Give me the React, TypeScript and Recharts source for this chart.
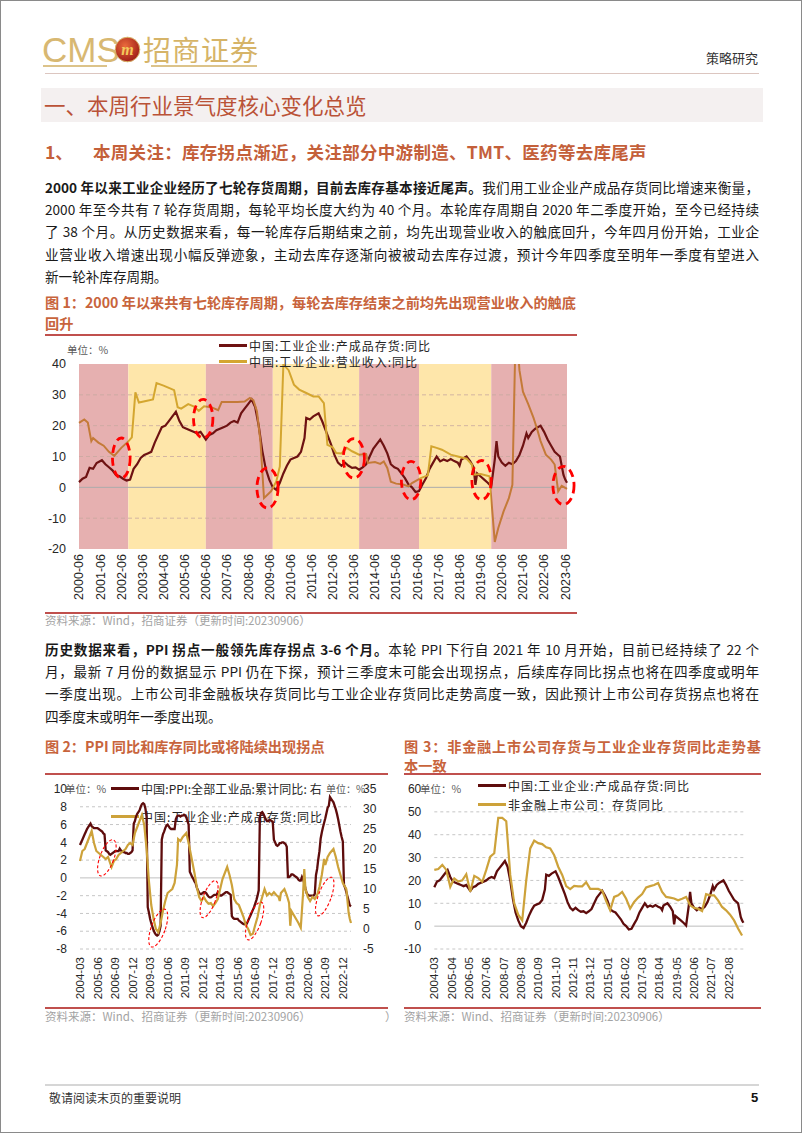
import React from "react";
import {
  LineChart,
  Line,
  XAxis,
  YAxis,
  CartesianGrid,
  ReferenceArea,
  ReferenceLine,
} from "recharts";

const CJK = '"Noto Sans CJK SC", "Noto Sans", sans-serif';
const ARIAL = '"Liberation Sans", Arial, sans-serif';

// ---------- data ----------

// 中国:工业企业:产成品存货:同比 (%)
const inventoryYoY: [string, number][] = [
  ["2000-06", 1.7], ["2000-08", 2.8], ["2000-10", 3.4], ["2000-12", 6.3], ["2001-02", 6.0],
  ["2001-04", 7.9], ["2001-07", 8.8], ["2001-09", 7.5], ["2001-11", 6.5], ["2002-01", 5.5],
  ["2002-03", 4.0], ["2002-05", 3.6], ["2002-07", 2.8], ["2002-09", 2.2], ["2002-11", 2.5],
  ["2003-01", 6.0], ["2003-03", 7.5], ["2003-05", 9.5], ["2003-07", 10.5], ["2003-09", 11.0],
  ["2003-11", 11.5], ["2004-01", 14.5], ["2004-03", 17.0], ["2004-05", 19.5], ["2004-07", 20.0],
  ["2004-09", 21.5], ["2004-11", 23.0], ["2005-01", 24.5], ["2005-03", 21.5], ["2005-05", 19.5],
  ["2005-07", 19.0], ["2005-09", 18.5], ["2005-11", 18.0], ["2006-01", 17.5], ["2006-03", 18.0],
  ["2006-06", 15.5], ["2006-08", 17.0], ["2006-10", 17.5], ["2006-12", 18.5], ["2007-02", 19.0],
  ["2007-04", 19.5], ["2007-06", 20.0], ["2007-08", 21.0], ["2007-10", 21.5], ["2007-12", 21.0],
  ["2008-02", 24.0], ["2008-04", 25.5], ["2008-06", 27.0], ["2008-08", 28.5], ["2008-10", 26.0],
  ["2008-12", 20.0], ["2009-02", 12.0], ["2009-04", 6.0], ["2009-06", 2.5], ["2009-08", 0.0],
  ["2009-10", -0.8], ["2009-12", 1.5], ["2010-02", 4.5], ["2010-04", 7.0], ["2010-06", 9.0],
  ["2010-08", 9.5], ["2010-10", 10.0], ["2010-12", 11.5], ["2011-02", 16.0], ["2011-03", 22.5],
  ["2011-05", 22.0], ["2011-07", 23.0], ["2011-10", 24.0], ["2011-12", 21.5], ["2012-03", 17.0],
  ["2012-05", 14.0], ["2012-07", 10.5], ["2012-09", 8.0], ["2012-11", 7.0], ["2013-01", 8.0],
  ["2013-03", 7.0], ["2013-05", 6.3], ["2013-07", 6.5], ["2013-09", 5.7], ["2013-11", 6.5],
  ["2014-01", 7.5], ["2014-03", 10.0], ["2014-05", 12.5], ["2014-07", 14.0], ["2014-09", 15.5],
  ["2014-11", 13.5], ["2015-01", 11.0], ["2015-03", 7.5], ["2015-05", 6.5], ["2015-07", 6.0],
  ["2015-09", 4.5], ["2015-11", 3.0], ["2016-01", 1.0], ["2016-03", 0.0], ["2016-05", -1.5],
  ["2016-07", -1.2], ["2016-09", 1.0], ["2016-11", 3.0], ["2017-01", 6.0], ["2017-03", 8.0],
  ["2017-05", 10.0], ["2017-07", 8.4], ["2017-09", 9.0], ["2017-11", 8.5], ["2018-01", 9.2],
  ["2018-03", 8.5], ["2018-05", 8.0], ["2018-06", 7.0], ["2018-07", 9.0], ["2018-10", 10.0],
  ["2018-12", 8.5], ["2019-02", 6.5], ["2019-03", 0.8], ["2019-04", 4.5], ["2019-06", 3.5],
  ["2019-08", 2.5], ["2019-10", 1.5], ["2019-12", 0.3], ["2020-02", 9.0], ["2020-03", 15.0],
  ["2020-04", 10.0], ["2020-06", 8.0], ["2020-08", 7.0], ["2020-10", 8.0], ["2020-12", 7.5],
  ["2021-02", 8.5], ["2021-04", 10.5], ["2021-06", 13.5], ["2021-08", 17.5], ["2021-09", 16.0],
  ["2021-11", 18.0], ["2022-01", 19.0], ["2022-04", 20.0], ["2022-06", 18.0], ["2022-08", 15.5],
  ["2022-10", 13.5], ["2022-12", 11.5], ["2023-02", 10.5], ["2023-03", 10.0], ["2023-04", 7.0],
  ["2023-05", 4.0], ["2023-06", 2.5], ["2023-07", 1.5],
];

// 中国:工业企业:营业收入:同比 (%)
const revenueYoY: [string, number][] = [
  ["2000-06", 20.9], ["2000-09", 22.0], ["2000-11", 21.0], ["2001-01", 15.0], ["2001-02", 16.0],
  ["2001-05", 14.5], ["2001-08", 13.5], ["2001-11", 11.5], ["2002-02", 10.2], ["2002-06", 12.8],
  ["2002-10", 14.9], ["2002-12", 16.2], ["2003-02", 30.8], ["2003-04", 27.5], ["2003-08", 28.0],
  ["2003-12", 28.5], ["2004-02", 33.8], ["2004-06", 33.0], ["2004-10", 32.0], ["2004-12", 31.5],
  ["2005-02", 26.0], ["2005-04", 25.5], ["2005-08", 27.0], ["2005-11", 26.3], ["2006-02", 24.8],
  ["2006-05", 26.3], ["2006-09", 26.0], ["2007-01", 25.0], ["2007-03", 27.7], ["2007-12", 27.7],
  ["2008-04", 27.8], ["2008-07", 29.0], ["2008-09", 28.3], ["2008-11", 24.7], ["2009-01", 14.9],
  ["2009-03", -3.5], ["2009-07", -1.3], ["2009-10", 1.9], ["2009-12", 6.8], ["2010-02", 39.8],
  ["2010-05", 38.0], ["2010-08", 33.3], ["2010-11", 31.7], ["2011-03", 30.6], ["2011-07", 29.5],
  ["2011-10", 29.5], ["2012-01", 27.3], ["2012-03", 13.8], ["2012-06", 13.0], ["2012-08", 11.1],
  ["2012-11", 11.0], ["2013-02", 12.8], ["2013-05", 11.7], ["2013-09", 10.6], ["2014-01", 10.8],
  ["2014-02", 7.9], ["2014-06", 8.2], ["2014-09", 7.6], ["2014-11", 8.4], ["2015-01", 6.3],
  ["2015-03", 1.8], ["2015-06", 1.2], ["2015-10", 0.9], ["2016-01", 0.3], ["2016-03", 1.4],
  ["2016-08", 3.0], ["2016-12", 3.9], ["2017-02", 13.3], ["2017-05", 12.8], ["2017-08", 12.2],
  ["2018-01", 10.6], ["2018-05", 10.0], ["2018-10", 9.3], ["2019-01", 7.4], ["2019-02", 4.1],
  ["2019-06", 4.3], ["2019-11", 3.6], ["2020-02", -17.7], ["2020-04", -13.2], ["2020-07", -7.8],
  ["2020-10", -3.5], ["2020-12", 0.8], ["2021-02", 55.0], ["2021-04", 38.0], ["2021-06", 31.0],
  ["2021-09", 27.0], ["2021-12", 22.5], ["2022-02", 19.0], ["2022-04", 15.0], ["2022-07", 10.6],
  ["2022-10", 9.0], ["2022-12", 7.4], ["2023-02", -1.3], ["2023-04", 0.5], ["2023-07", -0.5],
];

// 中国:PPI:全部工业品:累计同比, monthly from 2004-03
const ppiStart = "2004-03";
const ppiCumYoY: number[] = [
  3.7, 4.0, 4.3, 4.6, 4.9, 5.2, 5.5, 5.7, 5.9, 6.1,
  5.8, 5.7, 5.6, 5.6, 5.6, 5.6, 5.5, 5.4, 5.3, 5.2, 5.0, 4.9,
  3.1, 3.0, 2.9, 2.7, 2.6, 2.7, 2.8, 2.9, 3.0, 3.0, 3.0, 3.0,
  3.3, 3.1, 3.0, 2.9, 2.9, 2.8, 2.8, 2.7, 2.7, 2.8, 2.9, 3.1,
  6.1, 6.4, 6.9, 7.2, 7.4, 7.6, 8.0, 8.3, 8.4, 8.3, 7.8, 6.9,
  -3.3, -3.9, -4.6, -5.1, -5.5, -5.9, -6.2, -6.4, -6.5, -6.4, -6.0, -5.4,
  4.3, 4.9, 5.2, 5.6, 5.9, 6.0, 5.8, 5.6, 5.5, 5.5, 5.5, 5.5,
  6.6, 6.9, 7.0, 7.0, 6.9, 7.0, 7.0, 7.1, 7.0, 6.8, 6.4, 6.0,
  0.7, 0.4, 0.1, -0.1, -0.4, -0.6, -1.1, -1.4, -1.7, -1.8, -1.8, -1.7,
  -1.6, -1.6, -1.7, -1.9, -2.1, -2.2, -2.2, -2.1, -2.0, -1.9, -1.9, -1.9,
  -1.6, -1.8, -2.0, -2.0, -1.9, -1.8, -1.7, -1.6, -1.6, -1.7, -1.8, -1.9,
  -4.3, -4.5, -4.6, -4.6, -4.6, -4.6, -4.8, -4.9, -5.0, -5.1, -5.2, -5.2,
  -5.3, -5.1, -4.8, -4.5, -4.2, -3.9, -3.6, -3.3, -2.9, -2.5, -2.0, -1.4,
  6.9, 7.3, 7.4, 7.2, 6.9, 6.6, 6.4, 6.4, 6.5, 6.5, 6.4, 6.3,
  4.3, 4.0, 3.7, 3.6, 3.7, 3.9, 3.9, 4.0, 4.0, 3.9, 3.8, 3.5,
  0.1, 0.1, 0.2, 0.4, 0.4, 0.3, 0.2, 0.1, 0.0, -0.2, -0.3, -0.3,
  0.1, -0.2, -0.6, -1.2, -1.7, -1.9, -2.0, -2.0, -2.0, -2.0, -2.0, -1.8,
  0.3, 1.0, 2.1, 3.0, 4.4, 5.1, 5.7, 6.2, 6.7, 7.3, 7.9, 8.1,
  9.1, 8.9, 8.7, 8.5, 8.1, 7.7, 7.2, 6.6, 5.9, 5.2, 4.6, 4.1,
  -0.8, -1.1, -1.6, -2.1, -2.6, -3.1, -3.2,
];

// 非金融上市公司：存货同比 (%), quarterly
const listedInvYoY: [string, number][] = [
  ["2004-03", 24.6], ["2004-06", 25.0], ["2004-09", 26.8], ["2004-12", 24.6], ["2005-03", 17.2],
  ["2005-06", 20.9], ["2005-09", 19.5], ["2005-12", 20.0], ["2006-03", 22.7], ["2006-06", 15.0],
  ["2006-09", 22.0], ["2006-12", 21.0], ["2007-03", 19.4], ["2007-06", 24.6], ["2007-09", 30.4],
  ["2007-12", 31.9], ["2008-03", 47.4], ["2008-06", 47.4], ["2008-09", 45.9], ["2008-12", 22.4],
  ["2009-03", 10.0], ["2009-06", 5.0], ["2009-09", 2.5], ["2009-12", 20.0], ["2010-03", 34.0],
  ["2010-06", 37.4], ["2010-09", 36.3], ["2010-12", 35.9], ["2011-03", 34.5], ["2011-06", 34.0],
  ["2011-09", 31.0], ["2011-12", 26.0], ["2012-03", 22.4], ["2012-06", 17.5], ["2012-09", 16.2],
  ["2012-12", 17.6], ["2013-03", 17.4], ["2013-06", 17.4], ["2013-09", 19.2], ["2013-12", 16.3],
  ["2014-03", 16.3], ["2014-06", 16.3], ["2014-09", 15.5], ["2014-12", 11.0], ["2015-03", 6.9],
  ["2015-06", 12.8], ["2015-09", 13.5], ["2015-12", 15.0], ["2016-03", 12.0], ["2016-06", 7.7],
  ["2016-09", 10.6], ["2016-12", 12.5], ["2017-03", 14.0], ["2017-06", 16.9], ["2017-09", 17.5],
  ["2017-12", 18.0], ["2018-03", 18.9], ["2018-06", 15.0], ["2018-09", 12.8], ["2018-12", 12.5],
  ["2019-03", 12.1], ["2019-06", 11.3], ["2019-09", 12.0], ["2019-12", 12.8], ["2020-03", 9.1],
  ["2020-06", 8.0], ["2020-09", 7.6], ["2020-12", 6.6], ["2021-03", 14.0], ["2021-06", 13.5],
  ["2021-09", 13.5], ["2021-12", 11.3], ["2022-03", 8.4], ["2022-06", 6.9], ["2022-09", 5.0],
  ["2022-12", 2.5], ["2023-03", -1.0], ["2023-06", -4.1],
];

// tick labels
const ticks1 = [
  "2000-06", "2001-06", "2002-06", "2003-06", "2004-06", "2005-06", "2006-06", "2007-06",
  "2008-06", "2009-06", "2010-06", "2011-06", "2012-06", "2013-06", "2014-06", "2015-06",
  "2016-06", "2017-06", "2018-06", "2019-06", "2020-06", "2021-06", "2022-06", "2023-06",
];
const ticks2 = [
  "2004-03", "2005-06", "2006-09", "2007-12", "2009-03", "2010-06", "2011-09", "2012-12",
  "2014-03", "2015-06", "2016-09", "2017-12", "2019-03", "2020-06", "2021-09", "2022-12",
];
const ticks3 = [
  "2004-03", "2005-04", "2006-05", "2007-06", "2008-07", "2009-08", "2010-09", "2011-10",
  "2012-11", "2013-12", "2015-01", "2016-02", "2017-03", "2018-04", "2019-05", "2020-06",
  "2021-07", "2022-08",
];

// inventory cycle bands in fig 1
const bandEdges = ["2000-06", "2002-10", "2006-06", "2009-08", "2013-09", "2016-07", "2019-12", "2023-07"];
const bandKinds = ["down", "up", "down", "up", "down", "up", "down"];

// dashed circles: [from, to, low, high]
const circles1: [string, string, number, number][] = [
  ["2002-01", "2002-11", 3, 16],
  ["2005-11", "2006-10", 16, 28.5],
  ["2008-11", "2009-11", -6.7, 6.3],
  ["2012-12", "2013-12", 3, 15.8],
  ["2015-09", "2016-08", -4, 8.4],
  ["2019-01", "2019-12", -4, 8.7],
  ["2022-11", "2023-11", -5.6, 6.8],
];
const circles2: [string, string, number, number][] = [
  ["2005-08", "2006-08", 0.1, 4.4],
  ["2012-12", "2013-11", -4.6, -0.2],
  ["2009-04", "2010-04", -7.9, -3.4],
  ["2016-03", "2017-02", -7.1, -2.6],
  ["2021-03", "2022-02", -4.4, 0.2],
];

// ---------- helpers ----------

const monthIndex = (d: string, base: string) => {
  const [y, m] = d.split("-").map(Number);
  const [by, bm] = base.split("-").map(Number);
  return (y - by) * 12 + (m - bm);
};
const labelAt = (base: string) => (i: number) => {
  const [by, bm] = base.split("-").map(Number);
  const k = by * 12 + (bm - 1) + i;
  const y = Math.floor(k / 12);
  const m = (k % 12) + 1;
  return `${y}-${m < 10 ? "0" + m : m}`;
};
const toPts = (rows: [string, number][], base: string) =>
  rows.map(([d, v]) => ({ t: monthIndex(d, base), v })).filter((p) => p.t >= 0);

const BASE1 = "2000-06";
const BASE2 = "2004-03";
const END1 = monthIndex("2023-07", BASE1);
const END2 = monthIndex("2023-07", BASE2);

const invPts1 = toPts(inventoryYoY, BASE1);
const revPts1 = toPts(revenueYoY, BASE1);
const invPts2 = toPts(inventoryYoY, BASE2);
const listedPts = toPts(listedInvYoY, BASE2);
const ppiPts = ppiCumYoY.map((v, i) => ({ t: i + monthIndex(ppiStart, BASE2), v }));

const DARK = "#6E1212";
const DARK2 = "#5E0C0C";
const GOLD = "#CDA23A";
const PINK = "#E6B0B0";
const YELLOW = "#FEE6AA";
const GOLD_ON_PINK = "#C47A38";
const GOLD_ON_YELLOW = "#D4A630";

const RotTick = (props: any) => {
  const { x, y, payload, fmt, size } = props;
  return (
    <text
      x={x}
      y={y}
      transform={`rotate(-90 ${x} ${y})`}
      textAnchor="end"
      dy="0.35em"
      fontSize={size}
      fontFamily={ARIAL}
      fill="#262626"
    >
      {fmt(payload.value)}
    </text>
  );
};

const ellipseShape = (rot: number, sw: number, dash: string) => (p: any) => {
  const cx = p.x + p.width / 2;
  const cy = p.y + p.height / 2;
  return (
    <ellipse
      cx={cx}
      cy={cy}
      rx={Math.abs(p.width) / 2}
      ry={Math.abs(p.height) / 2}
      transform={`rotate(${rot} ${cx} ${cy})`}
      fill="none"
      stroke="#FF0000"
      strokeWidth={sw}
      strokeDasharray={dash}
    />
  );
};

type TxtProps = {
  x: number;
  y: number;
  w?: number;
  size: number;
  color?: string;
  bold?: boolean;
  justify?: boolean;
  lh?: number;
  font?: string;
  spacing?: number;
  children: React.ReactNode;
};

const Txt = ({ x, y, w, size, color = "#1a1a1a", bold, justify, lh, font = CJK, spacing, children }: TxtProps) => {
  const h = lh ?? Math.round(size * 1.5);
  return (
    <div
      style={{
        position: "absolute",
        left: x,
        top: y - h / 2,
        width: w,
        fontSize: size,
        lineHeight: `${h}px`,
        color,
        fontWeight: bold ? 700 : 400,
        fontFamily: font,
        letterSpacing: spacing,
        textAlign: justify ? "justify" : "left",
        textAlignLast: justify ? "justify" : "auto",
        whiteSpace: w ? "normal" : "nowrap",
      }}
    >
      {children}
    </div>
  );
};

const Rule = ({ x, y, w, h = 1, color }: { x: number; y: number; w: number; h?: number; color: string }) => (
  <div style={{ position: "absolute", left: x, top: y, width: w, height: h, background: color }} />
);

const LegendItem = ({ x, y, color, text, spacing = 1 }: { x: number; y: number; color: string; text: string; spacing?: number }) => (
  <>
    <Rule x={x} y={y - 1.5} w={28} h={3} color={color} />
    <Txt x={x + 30} y={y} size={12} color="#262626" spacing={spacing} lh={13}>
      {text}
    </Txt>
  </>
);

// ---------- texts ----------

const para1: [string, string][] = [
  ["2000 年以来工业企业经历了七轮存货周期，目前去库存基本接近尾声。", "我们用工业企业产成品存货同比增速来衡量，"],
  ["", "2000 年至今共有 7 轮存货周期，每轮平均长度大约为 40 个月。本轮库存周期自 2020 年二季度开始，至今已经持续"],
  ["", "了 38 个月。从历史数据来看，每一轮库存后期结束之前，均先出现营业收入的触底回升，今年四月份开始，工业企"],
  ["", "业营业收入增速出现小幅反弹迹象，主动去库存逐渐向被被动去库存过渡，预计今年四季度至明年一季度有望进入"],
  ["", "新一轮补库存周期。"],
];
const para2: [string, string][] = [
  ["历史数据来看，PPI 拐点一般领先库存拐点 3-6 个月。", "本轮 PPI 下行自 2021 年 10 月开始，目前已经持续了 22 个"],
  ["", "月，最新 7 月份的数据显示 PPI 仍在下探，预计三季度末可能会出现拐点，后续库存同比拐点也将在四季度或明年"],
  ["", "一季度出现。上市公司非金融板块存货同比与工业企业存货同比走势高度一致，因此预计上市公司存货拐点也将在"],
  ["", "四季度末或明年一季度出现。"],
];

const Paragraph = ({ lines, y0 }: { lines: [string, string][]; y0: number }) => (
  <>
    {lines.map(([b, r], i) => (
      <Txt key={i} x={44} y={y0 + i * 22.2} w={i === lines.length - 1 ? undefined : 714} size={13.6} justify={i !== lines.length - 1} lh={20}>
        {b ? <b>{b}</b> : null}
        {r}
      </Txt>
    ))}
  </>
);

// ---------- charts ----------

const Chart1 = () => {
  const stops: React.ReactNode[] = [];
  bandKinds.forEach((k, i) => {
    const c = k === "down" ? GOLD_ON_PINK : GOLD_ON_YELLOW;
    const a = monthIndex(bandEdges[i], BASE1) / END1;
    const b = monthIndex(bandEdges[i + 1], BASE1) / END1;
    stops.push(<stop key={`a${i}`} offset={a} stopColor={c} />);
    stops.push(<stop key={`b${i}`} offset={b} stopColor={c} />);
  });
  const fmt = labelAt(BASE1);
  return (
    <LineChart width={560} height={275} margin={{ top: 23, right: 24, bottom: 0, left: 0 }}>
      <defs>
        <linearGradient id="revGrad" x1="0" y1="0" x2="1" y2="0">
          {stops}
        </linearGradient>
      </defs>
      <XAxis
        type="number"
        dataKey="t"
        domain={[0, END1]}
        ticks={ticks1.map((l) => monthIndex(l, BASE1))}
        interval={0}
        axisLine={false}
        tickLine={false}
        tickSize={0}
        tickMargin={5}
        height={67}
        tick={(p: any) => <RotTick {...p} fmt={fmt} size={12.5} />}
      />
      <YAxis
        type="number"
        domain={[-20, 40]}
        ticks={[-20, -10, 0, 10, 20, 30, 40]}
        interval={0}
        allowDataOverflow
        width={48}
        axisLine={false}
        tickLine={false}
        tickSize={0}
        tickMargin={13}
        tick={{ fontSize: 12.5, fill: "#262626", fontFamily: ARIAL }}
      />
      {bandKinds.map((k, i) => (
        <ReferenceArea
          key={`band${i}`}
          x1={monthIndex(bandEdges[i], BASE1)}
          x2={monthIndex(bandEdges[i + 1], BASE1)}
          y1={-20}
          y2={40}
          fill={k === "down" ? PINK : YELLOW}
          fillOpacity={1}
          stroke="none"
        />
      ))}
      {[30, 20, 10, -10].map((v) => (
        <ReferenceLine key={`g${v}`} y={v} stroke="#C8A8A0" strokeDasharray="4 3" strokeWidth={0.8} />
      ))}
      <ReferenceLine y={0} stroke="#ABABAB" strokeWidth={1} />
      <Line data={invPts1} dataKey="v" type="linear" stroke={DARK} strokeWidth={2.2} dot={false} isAnimationActive={false} />
      <Line data={revPts1} dataKey="v" type="linear" stroke="url(#revGrad)" strokeWidth={2} dot={false} isAnimationActive={false} />
      {circles1.map(([a, b, lo, hi], i) => (
        <ReferenceArea
          key={`c${i}`}
          x1={monthIndex(a, BASE1)}
          x2={monthIndex(b, BASE1)}
          y1={lo}
          y2={hi}
          ifOverflow="visible"
          zIndex={700}
          shape={ellipseShape(0, 2.8, "8 5")}
        />
      ))}
    </LineChart>
  );
};

const Chart2 = () => {
  const fmt = labelAt(BASE2);
  return (
    <LineChart width={370} height={240} margin={{ top: 18, right: 8, bottom: 0, left: 4 }}>
      <CartesianGrid
        yAxisId="L"
        vertical={false}
        horizontalValues={[-8, -6, -4, -2, 2, 4, 6, 8]}
        stroke="#C6C6C6"
        strokeDasharray="3 3"
      />
      <XAxis
        type="number"
        dataKey="t"
        domain={[0, END2]}
        ticks={ticks2.map((l) => monthIndex(l, BASE2))}
        interval={0}
        axisLine={false}
        tickLine={false}
        tickSize={0}
        tickMargin={8}
        height={62}
        tick={(p: any) => <RotTick {...p} fmt={fmt} size={11.5} />}
      />
      <YAxis
        yAxisId="L"
        type="number"
        domain={[-8, 10]}
        ticks={[-8, -6, -4, -2, 0, 2, 4, 6, 8, 10]}
        interval={0}
        width={45}
        axisLine={false}
        tickLine={false}
        tickSize={0}
        tickMargin={13}
        tick={{ fontSize: 12, fill: "#262626", fontFamily: ARIAL }}
      />
      <YAxis
        yAxisId="R"
        orientation="right"
        type="number"
        domain={[-5, 35]}
        ticks={[-5, 0, 5, 10, 15, 20, 25, 30, 35]}
        interval={0}
        width={42}
        axisLine={false}
        tickLine={false}
        tickSize={0}
        tickMargin={12}
        tick={{ fontSize: 12, fill: "#262626", fontFamily: ARIAL }}
      />
      <ReferenceLine yAxisId="L" y={0} stroke="#C0C0C0" />
      <Line yAxisId="L" data={ppiPts} dataKey="v" type="linear" stroke={DARK2} strokeWidth={2.3} dot={false} isAnimationActive={false} />
      <Line yAxisId="R" data={invPts2} dataKey="v" type="linear" stroke={GOLD} strokeWidth={2.2} dot={false} isAnimationActive={false} />
      {circles2.map(([a, b, lo, hi], i) => (
        <ReferenceArea
          key={`c${i}`}
          yAxisId="L"
          x1={monthIndex(a, BASE2)}
          x2={monthIndex(b, BASE2)}
          y1={lo}
          y2={hi}
          ifOverflow="visible"
          zIndex={700}
          shape={ellipseShape(20, 1.1, "3 2")}
        />
      ))}
    </LineChart>
  );
};

const Chart3 = () => {
  const fmt = labelAt(BASE2);
  return (
    <LineChart width={380} height={240} margin={{ top: 18, right: 32.6, bottom: 0, left: 0 }}>
      <CartesianGrid
        vertical={false}
        horizontalValues={[-10, 10, 20, 30, 40, 50]}
        stroke="#C6C6C6"
        strokeDasharray="3 3"
      />
      <XAxis
        type="number"
        dataKey="t"
        domain={[0, END2]}
        ticks={ticks3.map((l) => monthIndex(l, BASE2))}
        interval={0}
        axisLine={false}
        tickLine={false}
        tickSize={0}
        tickMargin={8}
        height={62}
        tick={(p: any) => <RotTick {...p} fmt={fmt} size={11.5} />}
      />
      <YAxis
        type="number"
        domain={[-10, 60]}
        ticks={[-10, 0, 10, 20, 30, 40, 50, 60]}
        interval={0}
        width={38.3}
        axisLine={false}
        tickLine={false}
        tickSize={0}
        tickMargin={13}
        tick={{ fontSize: 12, fill: "#262626", fontFamily: ARIAL }}
      />
      <ReferenceLine y={0} stroke="#BDBDBD" />
      <Line data={invPts2} dataKey="v" type="linear" stroke={DARK2} strokeWidth={2.3} dot={false} isAnimationActive={false} />
      <Line data={listedPts} dataKey="v" type="linear" stroke={GOLD} strokeWidth={2.2} dot={false} isAnimationActive={false} />
    </LineChart>
  );
};

// ---------- page ----------

const RED = "#C0504D";
const TITLE = "#C8643C";
const SRC = "#A3A3A3";

export default function App() {
  return (
    <div
      style={{
        position: "absolute",
        left: 0,
        top: 0,
        width: 802,
        height: 1133,
        background: "#fff",
        border: "1px solid #8a8a8a",
        boxSizing: "border-box",
        overflow: "hidden",
        fontFamily: CJK,
      }}
    >
      {/* header */}
      <Txt x={41} y={49} size={35} color="#D8B872" font='"Liberation Sans Narrow", "Liberation Sans", Arial, sans-serif' lh={36}>
        CMS
      </Txt>
      <svg style={{ position: "absolute", left: 113, top: 35 }} width={27} height={27}>
        <defs>
          <radialGradient id="logoG" cx="40%" cy="35%" r="70%">
            <stop offset="0%" stopColor="#EA6A3C" />
            <stop offset="100%" stopColor="#9C1B16" />
          </radialGradient>
        </defs>
        <circle cx={13.5} cy={13.5} r={12.3} fill="url(#logoG)" stroke="#D9B66A" strokeWidth={1} />
        <text x={13.5} y={19} textAnchor="middle" fontSize={16} fontWeight={700} fontStyle="italic" fill="#F3C95C" fontFamily='"Liberation Serif", serif'>
          m
        </text>
      </svg>
      <Txt x={142} y={48} size={28} color="#D6B468" spacing={1} lh={34}>
        招商证券
      </Txt>
      <Rule x={42} y={64} w={64} h={1.5} color="#DCC38A" />
      <Rule x={150} y={64} w={106} h={1.5} color="#DCC38A" />
      <Txt x={705} y={57} size={13} color="#333">
        策略研究
      </Txt>
      <Rule x={44} y={72} w={714} h={1} color="#DCC6C0" />

      {/* section title */}
      <div style={{ position: "absolute", left: 40, top: 87, width: 722, height: 34, background: "#F4F0F0" }} />
      <Txt x={43} y={104} size={21.5} color="#BA5237">
        一、本周行业景气度核心变化总览
      </Txt>

      <Txt x={44} y={151} size={17.5} color="#C4603A" bold>
        1、
      </Txt>
      <Txt x={92} y={151} size={17.5} color="#C4603A" bold spacing={0.3}>
        本周关注：库存拐点渐近，关注部分中游制造、TMT、医药等去库尾声
      </Txt>

      <Paragraph lines={para1} y0={186} />

      {/* figure 1 */}
      <Txt x={44} y={301} w={531} size={14.2} color={TITLE} bold justify lh={20}>
        图 1：2000 年以来共有七轮库存周期，每轮去库存结束之前均先出现营业收入的触底
      </Txt>
      <Txt x={44} y={322} size={14.2} color={TITLE} bold lh={20}>
        回升
      </Txt>
      <Rule x={44} y={333} w={532} h={1.5} color={RED} />
      <Txt x={66} y={349} size={10.5} color="#595959">
        单位：%
      </Txt>
      <div style={{ position: "absolute", left: 30, top: 340 }}>
        <Chart1 />
      </div>
      <LegendItem x={218} y={344} color={DARK} text="中国:工业企业:产成品存货:同比" />
      <LegendItem x={218} y={360} color={GOLD_ON_YELLOW} text="中国:工业企业:营业收入:同比" />
      <Rule x={44} y={611} w={532} h={1.5} color={RED} />
      <Txt x={44} y={619} size={11.5} color={SRC}>
        资料来源：Wind，招商证券（更新时间:20230906）
      </Txt>

      <Paragraph lines={para2} y0={648} />

      {/* figure 2 */}
      <Txt x={44} y={745} size={14.2} color={TITLE} bold lh={20}>
        图 2：PPI 同比和库存同比或将陆续出现拐点
      </Txt>
      <Rule x={44} y={772} w={343} h={1.5} color={RED} />
      <Txt x={64} y={787} size={10.5} color="#595959" lh={13}>
        单位：%
      </Txt>
      <Txt x={325} y={787} size={10} color="#595959" lh={13}>
        单位：%
      </Txt>
      <LegendItem x={110} y={787} color={DARK2} text="中国:PPI:全部工业品:累计同比: 右" spacing={0.1} />
      <LegendItem x={110} y={815} color={GOLD} text="中国:工业企业:产成品存货:同比" />
      <div style={{ position: "absolute", left: 30, top: 770 }}>
        <Chart2 />
      </div>
      <Rule x={44} y={1006} w={343} h={1.5} color={RED} />
      <Txt x={44} y={1015} size={11.5} color={SRC}>
        资料来源：Wind、招商证券（更新时间:20230906）
      </Txt>
      <Txt x={384} y={1015} size={11.5} color={SRC}>
        ）
      </Txt>

      {/* figure 3 */}
      <Txt x={403} y={745} w={357} size={14.2} color={TITLE} bold justify lh={20}>
        图 3：非金融上市公司存货与工业企业存货同比走势基
      </Txt>
      <Txt x={403} y={764} size={14.2} color={TITLE} bold lh={20}>
        本一致
      </Txt>
      <Rule x={403} y={772} w={357} h={1.5} color={RED} />
      <Txt x={419} y={787} size={10.5} color="#595959" lh={13}>
        单位：%
      </Txt>
      <LegendItem x={477} y={784} color={DARK2} text="中国:工业企业:产成品存货:同比" />
      <LegendItem x={477} y={803} color={GOLD} text="非金融上市公司：存货同比" />
      <div style={{ position: "absolute", left: 395, top: 770 }}>
        <Chart3 />
      </div>
      <Rule x={403} y={1006} w={357} h={1.5} color={RED} />
      <Txt x={403} y={1015} size={11.5} color={SRC}>
        资料来源：Wind、招商证券（更新时间:20230906）
      </Txt>

      {/* footer */}
      <Rule x={44} y={1083} w={714} h={1.5} color="#D6D6D6" />
      <Txt x={48} y={1097} size={12} color="#333">
        敬请阅读末页的重要说明
      </Txt>
      <Txt x={750} y={1097} size={13} color="#111" bold font={ARIAL}>
        5
      </Txt>
    </div>
  );
}
